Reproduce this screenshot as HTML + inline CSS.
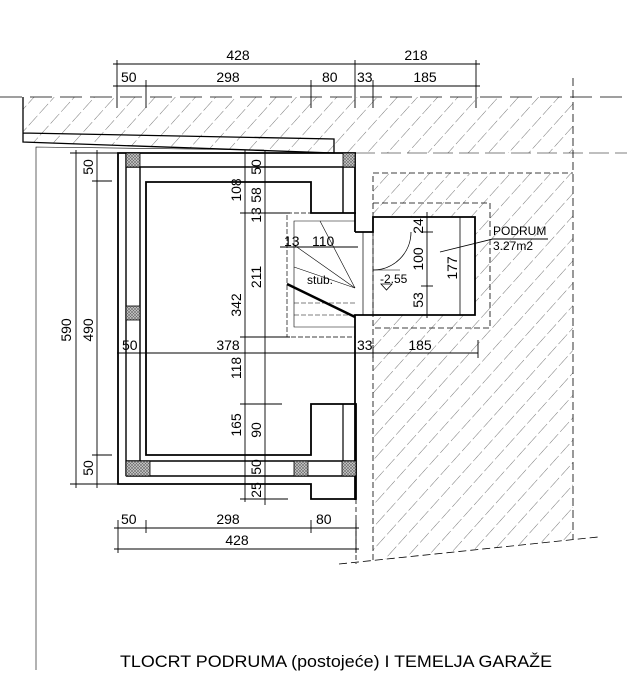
<!DOCTYPE html>
<html><head><meta charset="utf-8"><style>
html,body{margin:0;padding:0;background:#fff;}
svg{display:block;}
text{font-family:"Liberation Sans",sans-serif;fill:#000;}
</style></head><body>
<svg width="627" height="690" viewBox="0 0 627 690" xmlns="http://www.w3.org/2000/svg">
<defs>
<pattern id="h" patternUnits="userSpaceOnUse" width="15" height="16" patternTransform="rotate(42)">
<line x1="0" y1="0" x2="0" y2="16" stroke="#555" stroke-width="0.8" stroke-dasharray="10,3"/>
</pattern>
<pattern id="x" patternUnits="userSpaceOnUse" width="3" height="3">
<rect width="3" height="3" fill="#ccc"/><path d="M0,0L3,3M3,0L0,3" stroke="#666" stroke-width="0.6"/>
</pattern>
</defs>
<polygon points="23,97 573,97 573,153 334,153 23,142" fill="url(#h)"/>
<polygon points="373,173 573,173 573,539 373,560" fill="url(#h)"/>
<rect x="373" y="217" width="102" height="98" fill="#fff"/>
<g stroke="#000" fill="none" stroke-width="1">
<line x1="0" y1="97" x2="627" y2="97" stroke-dasharray="22,8" stroke-width="0.8"/>
<line x1="573" y1="78" x2="573" y2="539" stroke-dasharray="8,4" stroke-width="0.8"/>
<line x1="355" y1="153" x2="627" y2="153" stroke-width="0.6" stroke-dasharray="20,6"/>
<polyline points="373,560 373,173 573,173" stroke-dasharray="6,3" stroke-width="0.8"/>
<polyline points="373,203 490,203 490,328 373,328" stroke-dasharray="6,3" stroke-width="0.8"/>
<line x1="339" y1="564" x2="598" y2="537" stroke-dasharray="8,4" stroke-width="0.8"/>
<line x1="356" y1="499" x2="356" y2="564" stroke-dasharray="5,3" stroke-width="0.8"/>
<polyline points="23,97 23,142 334,153 334,139 23,133" stroke-width="1.3"/>
<polyline points="36,670 36,147 264,150" stroke-width="0.6"/>
<polyline points="356,153 118,153 118,484 311,484 311,499 356,499 356,404 311,404 311,455 146,455 146,182 311,182 311,213 356,213" stroke-width="1.8"/>
<line x1="355" y1="153" x2="355" y2="232" stroke-width="1.8"/>
<polyline points="355,232 373,232 373,217 475,217 475,315 355,315 355,500" stroke-width="1.8"/>
<line x1="126" y1="153" x2="126" y2="476" stroke-width="1.4"/>
<line x1="140" y1="167" x2="140" y2="461" stroke-width="1.4"/>
<line x1="126" y1="167" x2="355" y2="167" stroke-width="1.4"/>
<line x1="343" y1="167" x2="343" y2="213" stroke-width="1.4"/>
<line x1="126" y1="461" x2="356" y2="461" stroke-width="1.4"/>
<line x1="126" y1="476" x2="356" y2="476" stroke-width="1.4"/>
<line x1="343" y1="404" x2="343" y2="461" stroke-width="1.2"/>
<line x1="460" y1="217" x2="460" y2="315" stroke-width="0.8"/>
<line x1="363" y1="232" x2="363" y2="315" stroke-width="0.7"/>
<line x1="373" y1="232" x2="373" y2="315" stroke-width="0.7"/>
<polyline points="355,213 287,213 287,337 355,337" stroke-dasharray="5,2" stroke-width="0.7"/>
<polyline points="355,221 294,221 294,327 355,327" stroke-width="0.6"/>
<line x1="294" y1="303" x2="355" y2="303" stroke-dasharray="5,2" stroke-width="0.6"/>
<line x1="294" y1="315" x2="355" y2="315" stroke-dasharray="5,2" stroke-width="0.6"/>
<g stroke-width="0.6">
<line x1="320" y1="221" x2="355" y2="288"/>
<line x1="294" y1="245" x2="355" y2="288"/>
<line x1="294" y1="267" x2="355" y2="288"/>
</g>
<line x1="287" y1="284" x2="355" y2="317" stroke-width="2.5"/>
<path d="M411,232 A38,38 0 0 1 373,270" stroke-width="0.8"/>
<line x1="373" y1="270" x2="400" y2="270" stroke-width="0.6"/>
<polygon points="381,284 392,284 386.5,290" stroke-width="0.8"/>
<g fill="url(#x)" stroke="#000" stroke-width="0.8">
<rect x="126" y="153" width="14" height="14"/>
<rect x="343" y="153" width="12" height="14"/>
<rect x="126" y="306" width="14" height="14"/>
<rect x="126" y="461" width="24" height="15"/>
<rect x="294" y="461" width="14" height="15"/>
<rect x="342" y="461" width="14" height="15"/>
</g>
<g stroke-width="0.9">
<line x1="113" y1="64" x2="480" y2="64"/>
<line x1="113" y1="86" x2="480" y2="86"/>
<line x1="117" y1="60" x2="117" y2="108"/><line x1="355" y1="60" x2="355" y2="108"/><line x1="476" y1="60" x2="476" y2="108"/>
<line x1="146" y1="80" x2="146" y2="108"/><line x1="311" y1="80" x2="311" y2="108"/><line x1="373" y1="80" x2="373" y2="108"/>
<line x1="76" y1="150" x2="76" y2="488"/>
<line x1="97" y1="150" x2="97" y2="488"/>
<line x1="70" y1="153" x2="120" y2="153"/><line x1="92" y1="181" x2="112" y2="181"/>
<line x1="92" y1="455" x2="112" y2="455"/><line x1="70" y1="484" x2="118" y2="484"/>
<line x1="245" y1="150" x2="245" y2="502"/>
<line x1="265" y1="150" x2="265" y2="505"/>
<line x1="240" y1="213" x2="290" y2="213"/><line x1="240" y1="337" x2="290" y2="337"/>
<line x1="240" y1="404" x2="282" y2="404"/><line x1="240" y1="499" x2="288" y2="499"/>
<line x1="117" y1="353" x2="478" y2="353"/>
<line x1="355" y1="345" x2="355" y2="358"/><line x1="373" y1="345" x2="373" y2="358"/><line x1="478" y1="340" x2="478" y2="358"/>
<line x1="280" y1="247" x2="358" y2="247"/>
<line x1="427" y1="212" x2="427" y2="318"/>
<line x1="421" y1="232" x2="433" y2="232"/><line x1="421" y1="286" x2="433" y2="286"/>
<line x1="114" y1="528" x2="359" y2="528"/>
<line x1="114" y1="549" x2="359" y2="549"/>
<line x1="118" y1="520" x2="118" y2="553"/><line x1="146" y1="520" x2="146" y2="533"/>
<line x1="311" y1="520" x2="311" y2="533"/><line x1="356" y1="520" x2="356" y2="553"/>
<polyline points="440,252 493,239 548,239"/>
</g>
</g>
<g font-size="14">
<text x="238" y="60" text-anchor="middle">428</text>
<text x="416" y="60" text-anchor="middle">218</text>
<text x="121" y="82">50</text>
<text x="228" y="82" text-anchor="middle">298</text>
<text x="322" y="82">80</text>
<text x="357" y="82">33</text>
<text x="425" y="82" text-anchor="middle">185</text>
<text x="122" y="350">50</text>
<text x="228" y="350" text-anchor="middle">378</text>
<text x="357" y="350">33</text>
<text x="420" y="350" text-anchor="middle">185</text>
<text x="121" y="524">50</text>
<text x="228" y="524" text-anchor="middle">298</text>
<text x="316" y="524">80</text>
<text x="237" y="545" text-anchor="middle">428</text>
<text x="284" y="246">13</text>
<text x="312" y="246">110</text>
<text transform="translate(71,330) rotate(-90)" text-anchor="middle">590</text>
<text transform="translate(93,330) rotate(-90)" text-anchor="middle">490</text>
<text transform="translate(93,167) rotate(-90)" text-anchor="middle">50</text>
<text transform="translate(93,468) rotate(-90)" text-anchor="middle">50</text>
<text transform="translate(241,190) rotate(-90)" text-anchor="middle">108</text>
<text transform="translate(241,305) rotate(-90)" text-anchor="middle">342</text>
<text transform="translate(241,368) rotate(-90)" text-anchor="middle">118</text>
<text transform="translate(241,425) rotate(-90)" text-anchor="middle">165</text>
<text transform="translate(261,167) rotate(-90)" text-anchor="middle">50</text>
<text transform="translate(261,195) rotate(-90)" text-anchor="middle">58</text>
<text transform="translate(261,215) rotate(-90)" text-anchor="middle">13</text>
<text transform="translate(261,277) rotate(-90)" text-anchor="middle">211</text>
<text transform="translate(261,430) rotate(-90)" text-anchor="middle">90</text>
<text transform="translate(261,467) rotate(-90)" text-anchor="middle">50</text>
<text transform="translate(261,490) rotate(-90)" text-anchor="middle">25</text>
<text transform="translate(423,259) rotate(-90)" text-anchor="middle">100</text>
<text transform="translate(423,300) rotate(-90)" text-anchor="middle">53</text>
<text transform="translate(423,226) rotate(-90)" text-anchor="middle">24</text>
<text transform="translate(457,268) rotate(-90)" text-anchor="middle">177</text>
</g>
<text x="307" y="284" font-size="12">stub.</text>
<text x="380" y="283" font-size="12">-2.55</text>
<text x="493" y="235" font-size="12">PODRUM</text>
<text x="493" y="250" font-size="12">3.27m2</text>
<text x="120" y="667" font-size="17" textLength="432" lengthAdjust="spacingAndGlyphs">TLOCRT PODRUMA (postojeće) I TEMELJA GARAŽE</text>
</svg>
</body></html>
